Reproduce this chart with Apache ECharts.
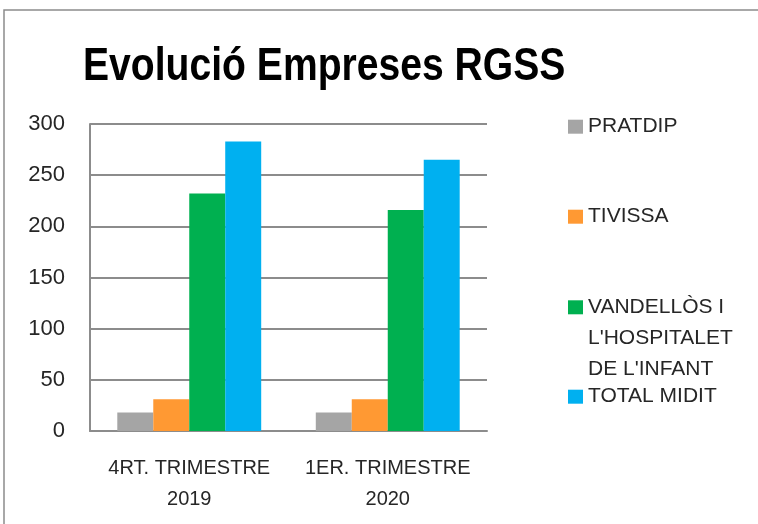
<!DOCTYPE html>
<html>
<head>
<meta charset="utf-8">
<script src="https://cdn.jsdelivr.net/npm/echarts@6/dist/echarts.min.js"></script>
<style>
html,body{margin:0;padding:0;background:#fff;}
#chart{width:758px;height:524px;}
</style>
</head>
<body>
<div id="chart"></div>
<script>
const titleText = "Evolució Empreses RGSS";
const categories = ["4RT. TRIMESTRE\n2019", "1ER. TRIMESTRE\n2020"];
const seriesNames = ["PRATDIP", "TIVISSA", "VANDELLÒS I L'HOSPITALET DE L'INFANT", "TOTAL MIDIT"];
const legendLabels = ["PRATDIP", "TIVISSA", "VANDELLÒS I\nL'HOSPITALET\nDE L'INFANT", "TOTAL MIDIT"];
const pratdip = [18, 18];
const tivissa = [31, 31];
const vandellos = [232, 216];
const totalMidit = [283, 265];
const yTicks = [0, 50, 100, 150, 200, 250, 300];

const colors = ["#A5A5A5", "#FF9933", "#00B050", "#00B0F0"];
const seriesData = [pratdip, tivissa, vandellos, totalMidit];
const font = "'Liberation Sans', Arial, sans-serif";
const legendCenters = [126.7, 216.7, 307.3, 396.7];

const chart = echarts.init(document.getElementById('chart'), null, {renderer: 'canvas'});
const legends = seriesNames.map((n, i) => {
  const textLines = legendLabels[i].split('\n');
  const lh = 31;
  // prepend blank lines so the icon sits beside the first text line
  const blanks = Array(textLines.length - 1).fill(' ');
  const allLines = blanks.concat(textLines);
  const blockH = allLines.length * lh;
  return {
    data: [n],
    orient: 'vertical',
    left: 568,
    top: legendCenters[i] - blockH / 2,
    padding: 0,
    itemWidth: 15,
    itemHeight: 14,
    icon: 'rect',
    selectedMode: false,
    formatter: () => allLines.join('\n'),
    textStyle: {
      fontFamily: font,
      fontSize: 21,
      color: '#262626',
      lineHeight: lh
    }
  };
});

chart.setOption({
  animation: false,
  backgroundColor: '#ffffff',
  graphic: [
    {
      type: 'rect', silent: true, z: -10,
      shape: {x: 4, y: 10, width: 900, height: 700},
      style: {fill: 'none', stroke: '#8c8c8c', lineWidth: 1.5}
    },
    {
      type: 'text', x: 83, y: 67, scaleX: 0.85, originX: 0,
      style: {
        text: titleText,
        font: "bold 46px 'Liberation Sans', Arial, sans-serif",
        fill: '#000000',
        align: 'left',
        verticalAlign: 'middle'
      }
    }
  ],
  legend: legends,
  grid: {left: 90, right: 271, top: 124, bottom: 93, containLabel: false},
  xAxis: {
    type: 'category',
    data: categories,
    axisLine: {show: true, lineStyle: {color: '#8c8c8c', width: 2}},
    axisTick: {show: false},
    axisLabel: {
      fontFamily: font, fontSize: 20, color: '#262626',
      lineHeight: 31, margin: 22, interval: 0
    }
  },
  yAxis: {
    type: 'value',
    min: yTicks[0],
    max: yTicks[yTicks.length - 1],
    interval: yTicks[1] - yTicks[0],
    axisLine: {show: true, lineStyle: {color: '#8c8c8c', width: 2}},
    axisTick: {show: false},
    splitLine: {show: true, lineStyle: {color: '#8c8c8c', width: 2}},
    axisLabel: {fontFamily: font, fontSize: 22, color: '#262626', margin: 25}
  },
  series: seriesNames.map((n, i) => ({
    name: n,
    type: 'bar',
    data: seriesData[i],
    barGap: '0%',
    barCategoryGap: '27.5%',
    itemStyle: {color: colors[i]}
  }))
});
</script>
</body>
</html>
